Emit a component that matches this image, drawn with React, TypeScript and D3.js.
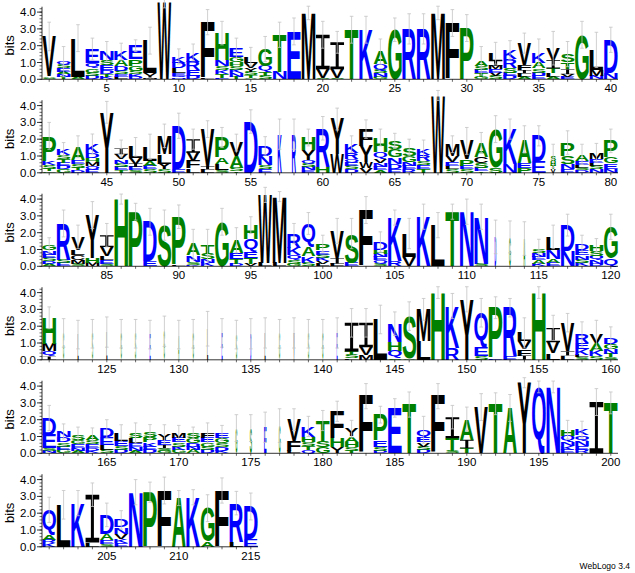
import React, { useMemo } from 'react';
import * as d3 from 'd3';

// Each column: letters with their height in bits (any order, stacked small -> large)
const row1 = [
  'S.1 A.1 V2.35', 'E.2 T.15 S.2 N.15 A.15 Q.2', 'A.15 L2.3', 'D.2 S.2 G.25 Q.3 E.85', 'K.15 T.15 D.25 E.3 S.3 N.5',
  'L.15 E.15 S.2 D.3 A.35 K.5', 'D.15 K.15 S.2 G.3 P.4 E.8', 'M.1 I.1 V.15 L1.95', 'W4.55', 'N.1 Q.1 E.15 L.3 D.35 K.36',
  'D.2 E.35 R.5 K.55', 'L.1 F3.3', 'E.1 T.2 K.25 S.25 N.35 H1.6', 'T.15 N.2 K.2 S.25 H.25 G.3 E.5', 'A.1 T.15 S.2 Y.25 V.3 L.35',
  'S.2 T.25 Q.35 G1.0', 'N.45 T2.2', 'E2.85', 'M3.95', 'S.1 V.5 I2.05',
  'S.1 V.5 I1.6', 'T2.95', 'K2.95', 'G.15 N.2 S.2 Q.35 A.75', 'G2.95',
  'R3.0', 'R3.0', 'M3.95', 'F3.35', 'P3.05',
  'G.15 T.2 E.2 S.25 A.3', 'S.2 V.2 E.2 M.2 I.3 L.45', 'D.2 E.2 S.3 R.5 K.55', 'A.15 L.2 I.2 F.3 V1.3', 'E.2 D.2 S.25 A.35 K.6',
  'A.15 L.2 T.3 I.5 V.7', 'E.15 V.15 I.3 T.4 S.5', 'G2.65', 'N.2 M.35 L1.2', 'N.4 D1.95',
];
const row2 = [
  'G.1 T.15 S.2 K.25 P1.5', 'G.2 D.2 E.2 T.2 S.25 K.35', 'D.15 T.15 S.2 E.25 A.8', 'E.2 Q.2 M.25 H.25 D.26 K.55', 'Y3.6',
  'T.15 E.2 S.2 N.25 V.3 I.35', 'S.15 E.2 I.2 V.35 L.65', 'S.2 E.2 A.3 L.85', 'S.2 Y.35 L.55 M1.1', 'E.25 D2.55',
  'L.25 F.45 V.5 I.8', 'L.2 I.2 V2.2', 'S.15 L.35 A.4 P1.2', 'T.1 S.2 A.7 V.8', 'D3.05',
  'E.2 S.25 N.55 D.6', 'K2.3', 'R2.3', 'E.15 N.2 S.2 Q.2 Y.6 H.75', 'H.35 R2.3',
  'W1.1 Y2.1', 'D.2 S.2 E.2 Q.2 R.4 K.5', 'V.3 W.35 Y.95 F1.0', 'A.15 E.2 N.25 V.25 Q.4 H.85', 'E.25 D.3 N.4 G.45 S.5',
  'R.2 E.2 N.25 G.35 S.5', 'T.2 E.25 S.25 R.35 K.4', 'W4.6', 'S.2 L.2 E.25 V.35 M.7', 'S.2 E.2 P.4 V1.1',
  'T.1 E.2 S.3 C.35 A.85', 'S.3 G2.3', 'N.5 K2.1', 'P.3 E.3 A1.4', 'E.7 D1.5',
  'V.2 T.2 H.3 S.3', 'E.2 N.3 S.5 P.8', 'D.15 S.15 L.15 E.25 A.4', 'N.2 S.2 L.2 E.25 M.35', 'N.25 E.3 G.35 P1.0',
];
const row3 = [
  'A.15 D.15 S.2 E.2 N.25 G.3', 'E.2 S.2 R2.15', 'S.15 M.25 C.3 L.3 V.75', 'M.2 H.3 Y2.55', 'S.15 E.2 L.25 V.55 I.7',
  'H4.0', 'P3.25', 'E.3 D2.35', 'S2.45', 'L.1 P2.85',
  'K.1 S.15 N.4 A.65', 'K.2 N.2 S.35 T.5', 'G2.65', 'D.15 T.3 E.35 A.75', 'V.15 T.35 E.35 Q.75 H.85',
  'L.2 W4.05', 'L.2 M3.95', 'G.15 S.2 Q.3 K.45 R.85', 'S.2 K.4 A.55 Q1.4', 'L.15 V.15 K.2 S.2 E.25 P.4',
  'L.15 I.35 V1.6', 'E.2 S1.75', 'F3.35', 'S.15 Q.2 E.2 N.2 H.25 D.45', 'R.3 K2.6',
  'V.55 L1.4', 'K2.95', 'L2.45', 'T3.25', 'N3.25',
  'S.15 N2.8', 'D1.75', 'G1.75', 'A1.65', 'K.15 A.2 E.2 N.25 S.26',
  'E.2 A.25 N.55 L.75', 'N.9 D1.55', 'K.2 S.2 N.25 E.3 D.4', 'D.15 N.2 Q.25 S.3 H.35', 'Q.45 G1.9',
];
const row4 = [
  'Q.3 I.2 M.45 H1.55', 'G1.6', 'L1.5', 'S1.55', 'L1.65',
  'G1.55', 'S1.55', 'E1.5', 'G1.7', 'A1.5',
  'G1.55', 'L1.85', 'E1.6', 'S1.5', 'D1.55',
  'L1.6', 'G1.55', 'V1.6', 'S1.55', 'G1.55',
  'E1.6', 'L.1 S.2 T.2 I1.7', 'M.3 V.45 I1.45', 'L2.4', 'S.1 Q.45 H.5 N1.1',
  'A.1 S2.5', 'L1.1 M1.9', 'H4.0', 'R.7 K2.5', 'Y3.6',
  'S.2 E.5 Q2.1', 'E.1 P3.0', 'E.2 R2.9', 'I.25 F.4 V.45 L.5', 'H4.0',
  'L.4 V.65 I.85', 'L.25 I.26 V1.7', 'S.15 L.15 K.35 E.36 R.5', 'S.2 K.35 A.45 V.5', 'S.15 T.2 N.3 G.31 D.35',
];
const row5 = [
  'N.15 S.15 E.8 D1.0', 'G.2 E.2 S.25 D.3 N.35', 'A.15 N.15 E.25 G.26 S.3', 'K.15 D.15 E.25 S.26 A.3', 'S.2 L.3 E.45 D.5',
  'D.2 S.25 E.3 L.45', 'A.15 N.2 E.25 L.3 S.31', 'D.2 E.2 K.25 P.3 S.31', 'G.15 S.15 I.2 E.3 Y.35', 'G.2 K.2 S.25 E.26 M.3',
  'A.2 N.2 D.2 G.3 S.31', 'D.2 S.2 G.25 E.26 F.3', 'K.15 D.2 S.25 G.3 E.31', 'G1.5', 'S1.5',
  'E1.55', 'G1.65', 'L.15 F.6 V1.25', 'Q.2 T.25 S.25 H.3 K.6', 'G.35 S.4 T1.2',
  'Y.4 H.5 F1.6', 'T.15 S.25 H.3 A.31 Y.45', 'F3.4', 'D.15 S.25 E.35 P1.55', 'E2.7',
  'T2.9', 'D.2 S.2 V.25 E.3 Q.45', 'F3.4', 'S.15 T.75 I1.25', 'T.3 I.5 A1.25',
  'V2.75', 'T2.95', 'A2.7', 'Y4.2', 'Q3.95',
  'N3.95', 'E.2 K.25 N.25 Q.35 H.36', 'R.2 E.25 N.3 Q.31 K.35', 'I3.05', 'T3.0',
];
const row6 = [
  'K.2 R.2 A.3 Q1.5', 'L2.5', 'K2.6', 'L.25 I2.85', 'S.15 E.25 A.35 D1.15',
  'E.2 K.25 V.3 N.4 D.45', 'N3.25', 'P3.25', 'F3.35', 'A2.9',
  'K2.95', 'A.3 G2.0', 'F3.35', 'L.3 R2.3', 'E.45 D1.95',
];

// error bar half-lengths (bits)
const err1 = [.85, .9, .8, .65, .6, .5, .35, .8, .3, .45, .5, .75, .7, .6, .55, .75, .75, .8, .4, .8,
  .65, .8, .8, .75, .7, .9, .9, .4, .8, .8, .85, .65, .55, .6, .8, 1.0, .75, .8, 1.05, .75];
const err2 = [.8, .4, .65, .6, .65, .5, .55, .75, .7, .75, .6, .5, .6, .5, .7, .55, .9, .9, .5, .7,
  .65, .5, .55, .5, .45, .5, .5, .3, .5, .8, .6, .8, .6, .8, .6, .7, .7, .6, .55, .7];
const err3 = [.45, .8, .7, .8, .7, .3, .5, .8, .9, .7, .9, .95, .8, .75, .5, .45, .3, .6, .65, .5,
  .75, .9, .8, .6, .45, .9, .75, .75, .45, .75, .75, 1.0, .95, 1.0, .55, .7, .65, .5, .4, .75];
const err4 = [.65, .85, .85, .85, .9, .85, .85, .85, .9, .85, .85, 1.03, .85, .85, .9, .9, .85, .9, .85, .85,
  .9, .85, .85, .85, .7, .85, .65, .35, .75, .75, .85, .65, .55, .9, .35, .75, .55, .75, .85, .65];
const err5 = [.75, .45, .45, .4, .55, .5, .6, .45, .55, .45, .35, .6, .45, .8, .8, .9, 1.0, .65, .6, .6,
  .6, .5, .75, .5, .55, .75, .8, .75, .7, .7, .8, .65, .8, .3, .35, .35, .55, .5, .8, .65];
const err6 = [.75, .85, .75, .7, .7, .55, .75, .6, .8, .45, .45, .8, .75, .7, .8];

// stack width fraction for columns with many gaps
const narrowCols: Record<number, number> = {
  57: .3, 58: .3, 76: .38, 112: .12, 113: .12, 114: .12,
  122: .07, 123: .07, 124: .07, 125: .07, 126: .07, 127: .07, 128: .07, 129: .07, 130: .07, 131: .07,
  132: .07, 133: .07, 134: .07, 135: .07, 136: .07, 137: .07, 138: .07, 139: .07, 140: .07, 141: .07,
  174: .12, 175: .15, 176: .18, 177: .12,
};

const rows = [row1, row2, row3, row4, row5, row6];
const errs = [err1, err2, err3, err4, err5, err6];
const yTicks = [0, 1, 2, 3, 4];

const FONT = '"Liberation Sans", Arial, sans-serif';
const W = 635;
const H = 573;
const left = 42;
const colW = 14.4;
const perRow = 40;
const firstBase = 79.3;
const rowStep = 93.5;
const pxPerBit = 16.8;
const maxBits = 4.32;

const colorOf = (ch: string) => {
  if ('RKDENQ'.includes(ch)) return '#0000ff';
  if ('SGHTAP'.includes(ch)) return '#008000';
  return '#000000';
};

const parseCol = (s: string) =>
  s.split(' ').map(t => ({ ch: t[0], bits: +t.slice(1) })).sort((a, b) => a.bits - b.bits);

// WebLogo's "I" has full-width bars top and bottom
const iPath = (x0: number, y0: number, w: number, h: number) => {
  const t = h * 0.1;
  const side = (w - w * 0.22) / 2;
  return `M${x0},${y0}h${w}v${t}h${-side}v${h - 2 * t}h${side}v${t}h${-w}v${-t}h${side}v${-(h - 2 * t)}h${-side}Z`;
};

export default function App() {
  const metrics = useMemo(() => {
    const c = document.createElement('canvas');
    const ctx = c.getContext('2d')!;
    ctx.font = `bold 100px ${FONT}`;
    const out: Record<string, { l: number; r: number; a: number; d: number }> = {};
    for (const ch of 'ACDEFGHKLMNPQRSTVWY') {
      const m = ctx.measureText(ch);
      out[ch] = { l: m.actualBoundingBoxLeft, r: m.actualBoundingBoxRight, a: m.actualBoundingBoxAscent, d: m.actualBoundingBoxDescent };
    }
    return out;
  }, []);

  return (
    <svg width={W} height={H} style={{ position: 'absolute', left: 0, top: 0, background: '#fff' }} fontFamily={FONT}>
      {rows.map((cols, r) => {
        const base = firstBase + r * rowStep;
        const y = d3.scaleLinear().domain([0, maxBits]).range([base, base - maxBits * pxPerBit]);
        const x = d3.scaleLinear().domain([0, perRow]).range([left, left + perRow * colW]);
        const n = cols.length;
        const minor = d3.range(0, maxBits, 0.2);
        return (
          <g key={r}>
            {/* letters */}
            {cols.map((s, i) => {
              const pos = r * perRow + i + 1;
              const frac = narrowCols[pos] ?? 1;
              const w = colW * 0.95 * frac;
              const cx = x(i + 0.5);
              let cum = 0;
              return parseCol(s).map((l, k) => {
                const y0 = y(cum + l.bits);
                const h = y(cum) - y0;
                cum += l.bits;
                if (l.ch === 'I') {
                  return <path key={`${i}-${k}`} d={iPath(cx - w / 2, y0, w, h)} fill={colorOf(l.ch)} />;
                }
                const m = metrics[l.ch];
                const iw = m.l + m.r;
                const ih = m.a + m.d;
                return (
                  <text key={`${i}-${k}`} fontSize={100} fontWeight="bold" fill={colorOf(l.ch)}
                    transform={`translate(${cx - w / 2},${y0}) scale(${w / iw},${h / ih}) translate(${m.l},${m.a})`}>
                    {l.ch}
                  </text>
                );
              });
            })}
            {/* error bars */}
            {cols.map((s, i) => {
              const tot = parseCol(s).reduce((a, b) => a + b.bits, 0);
              const e = errs[r][i];
              const cx = x(i + 0.5);
              const yt = y(tot + e);
              const yb = y(tot - e);
              return (
                <g key={`e${i}`} stroke="#c4c4c4" strokeWidth={0.8}>
                  <line x1={cx} x2={cx} y1={yt} y2={yb} />
                  <line x1={cx - 1.8} x2={cx + 1.8} y1={yt} y2={yt} />
                  <line x1={cx - 1.8} x2={cx + 1.8} y1={yb} y2={yb} />
                </g>
              );
            })}
            {/* y axis */}
            <line x1={left} x2={left} y1={y(0)} y2={y(maxBits)} stroke="#000" strokeWidth={0.8} />
            {minor.map(v => (
              <line key={`m${v}`} x1={left - 2.5} x2={left} y1={y(v)} y2={y(v)} stroke="#000" strokeWidth={0.6} />
            ))}
            {yTicks.map(v => (
              <g key={`t${v}`}>
                <line x1={left - 5} x2={left} y1={y(v)} y2={y(v)} stroke="#000" strokeWidth={0.8} />
                <text x={left - 6} y={y(v)} dy="0.35em" textAnchor="end" fontSize={11.5} fill="#000">{v.toFixed(1)}</text>
              </g>
            ))}
            <text transform={`translate(14,${base - 34}) rotate(-90)`} textAnchor="middle" fontSize={13} fill="#000">bits</text>
            {/* x axis */}
            <line x1={left} x2={x(n)} y1={base} y2={base} stroke="#000" strokeWidth={0.8} />
            {d3.range(n).map(i => (
              <line key={`x${i}`} x1={x(i + 0.5)} x2={x(i + 0.5)} y1={base} y2={base + 2.5} stroke="#000" strokeWidth={0.6} />
            ))}
            {d3.range(n).filter(i => (r * perRow + i + 1) % 5 === 0).map(i => (
              <text key={`l${i}`} x={x(i + 0.5)} y={base + 13} textAnchor="middle" fontSize={11.5} fill="#000">
                {r * perRow + i + 1}
              </text>
            ))}
          </g>
        );
      })}
      <text x={630} y={569} textAnchor="end" fontSize={8.5} fill="#000">WebLogo 3.4</text>
    </svg>
  );
}
